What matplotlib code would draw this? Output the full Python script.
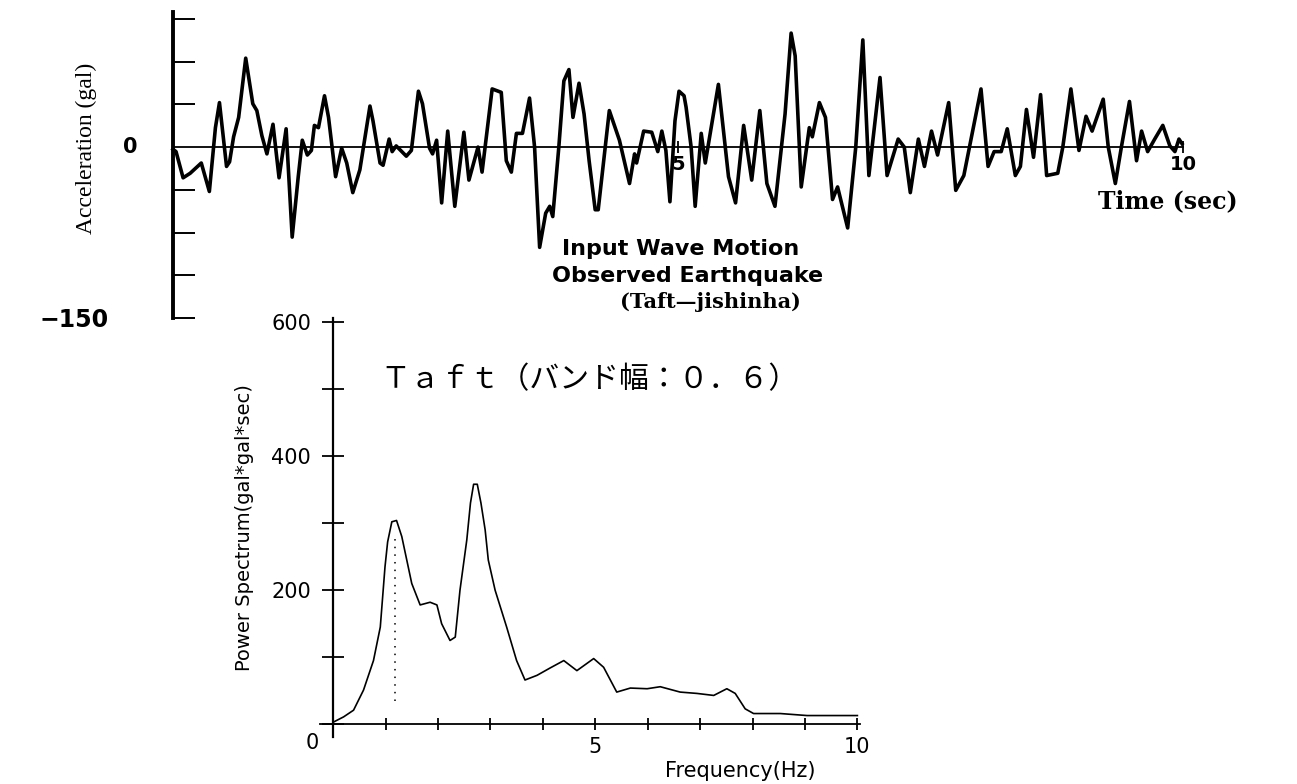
#!/usr/bin/python3

import matplotlib
matplotlib.use('Agg')
from matplotlib import pyplot as plt

WIDTH, HEIGHT, DPI = 1297, 784, 100

# Input wave motion (Taft record).
TIME = [
    0.00, 0.03, 0.10, 0.17, 0.28, 0.36, 0.42, 0.46, 0.53, 0.56,
    0.60, 0.65, 0.72, 0.79, 0.83, 0.88, 0.93, 0.99, 1.05, 1.12,
    1.18, 1.24, 1.28, 1.33, 1.37, 1.40, 1.44, 1.50, 1.54, 1.61,
    1.67, 1.72, 1.78, 1.85, 1.95, 1.98, 2.05, 2.08, 2.14, 2.17,
    2.21, 2.31, 2.36, 2.43, 2.47, 2.54, 2.57, 2.61, 2.66, 2.72,
    2.79, 2.88, 2.93, 3.02, 3.06, 3.16, 3.25, 3.30, 3.35, 3.40,
    3.46, 3.53, 3.58, 3.63, 3.69, 3.73, 3.76, 3.82, 3.87, 3.92,
    3.96, 4.02, 4.07, 4.12, 4.18, 4.21, 4.32, 4.42, 4.52, 4.57,
    4.59, 4.66, 4.74, 4.80, 4.84, 4.88, 4.92, 4.97, 5.01, 5.06,
    5.08, 5.13, 5.17, 5.23, 5.27, 5.40, 5.50, 5.57, 5.65, 5.73,
    5.81, 5.88, 5.96, 6.06, 6.12, 6.16, 6.22, 6.30, 6.33, 6.40,
    6.46, 6.53, 6.58, 6.68, 6.76, 6.83, 6.89, 7.00, 7.07, 7.18,
    7.24, 7.30, 7.38, 7.44, 7.51, 7.57, 7.68, 7.75, 7.83, 8.00,
    8.07, 8.13, 8.20, 8.26, 8.34, 8.39, 8.45, 8.52, 8.59, 8.65,
    8.76, 8.81, 8.89, 8.97, 9.04, 9.10, 9.21, 9.26, 9.33, 9.39,
    9.47, 9.54, 9.59, 9.65, 9.72, 9.80, 9.87, 9.92, 9.96, 9.99,
]
ACCEL = [
    -2, -4, -27, -23, -14, -39, 17, 39, -17, -13,
    9, 26, 78, 38, 32, 10, -6, 20, -27, 16,
    -79, -26, 6, -7, -3, 19, 17, 45, 26, -26,
    -1, -14, -40, -20, 36, 23, -14, -16, 7, -4,
    1, -8, -3, 49, 38, -1, -6, 6, -49, 14,
    -52, 13, -29, 0, -22, 51, 48, -12, -22, 12,
    12, 43, 0, -88, -58, -52, -61, 0, 58, 68,
    26, 56, 29, -12, -55, -55, 32, 6, -32, -6,
    -14, 14, 13, -4, 14, -3, -48, 23, 49, 45,
    35, 0, -52, 12, -14, 55, -26, -49, 19, -29,
    32, -32, -52, 29, 100, 80, -35, 17, 9, 39,
    26, -46, -35, -71, 0, 94, -25, 61, -25, 7,
    0, -40, 7, -17, 14, -7, 39, -38, -25, 51,
    -17, -4, -4, 16, -25, -17, 33, -9, 46, -25,
    -23, 0, 51, -3, 27, 14, 42, 0, -32, 0,
    40, -12, 14, -4, 7, 19, 1, -4, 7, 3,
]
ACCEL_TICKS = [-150, -112.5, -75, -37.5, 37.5, 75, 112.5]
TIME_TICKS = [5, 10]

# Power spectrum, band width 0.6.
FREQ = [
    0.0, 0.2, 0.39, 0.58, 0.77, 0.9, 0.99, 1.04, 1.12, 1.21,
    1.31, 1.5, 1.66, 1.85, 1.98, 2.07, 2.23, 2.33, 2.42, 2.55,
    2.62, 2.68, 2.75, 2.82, 2.9, 2.96, 3.09, 3.31, 3.5, 3.66,
    3.89, 4.14, 4.4, 4.65, 4.97, 5.16, 5.41, 5.67, 5.99, 6.24,
    6.62, 6.94, 7.26, 7.51, 7.67, 7.86, 8.02, 8.53, 9.04, 10.0,
]
POWER = [
    3, 11, 21, 51, 95, 145, 235, 272, 302, 304,
    280, 210, 178, 182, 178, 150, 125, 130, 200, 275,
    330, 358, 358, 330, 290, 245, 200, 145, 95, 66,
    73, 84, 95, 80, 98, 85, 48, 54, 53, 56,
    48, 46, 43, 53, 46, 23, 16, 16, 13, 13,
]
FREQ_TICKS = list(range(11))
FREQ_LABELS = ['', '', '', '', '', '5', '', '', '', '', '10']
POWER_TICKS = [0, 100, 200, 300, 400, 500, 600]
POWER_LABELS = ['', '', '200', '', '400', '', '600']

# Dotted marker under the first peak.
MARK_FREQ = 1.19
MARK_POWER = (35, 285)

NOTE = 'Ｔａｆｔ（バンド幅：０．６）'


def px_rect(left, top, right, bottom):
    return [left / WIDTH, 1 - bottom / HEIGHT,
            (right - left) / WIDTH, (bottom - top) / HEIGHT]


def label(fig, x, y, text, **kw):
    kw.setdefault('ha', 'center')
    kw.setdefault('va', 'center')
    fig.text(x / WIDTH, 1 - y / HEIGHT, text, **kw)


def plot_wave(fig):
    ax = fig.add_axes(px_rect(173, 12, 1183, 318))
    ax.plot(TIME, ACCEL, color='black', lw=2.6, clip_on=False)
    ax.set_xlim(0, 10)
    ax.set_ylim(-150, 118.5)
    for side in ('top', 'right'):
        ax.spines[side].set_visible(False)
    ax.spines['left'].set_linewidth(2.8)
    ax.spines['bottom'].set_position(('data', 0))
    ax.spines['bottom'].set_linewidth(1.3)
    ax.set_yticks(ACCEL_TICKS)
    ax.tick_params(axis='y', direction='in', length=16, width=1.4,
                   labelleft=False)
    ax.set_xticks(TIME_TICKS, [str(t) for t in TIME_TICKS],
                  family='DejaVu Sans', weight='bold', size=14)
    ax.tick_params(axis='x', direction='inout', length=8, width=1.3, pad=2)
    ax.patch.set_visible(False)

    label(fig, 86, 148, 'Acceleration (gal)', rotation=90,
          family='Liberation Serif', size=17)
    label(fig, 130, 147, '0', family='DejaVu Sans', weight='bold', size=15)
    label(fig, 74, 320, '−150', family='DejaVu Sans', weight='bold',
          size=17)
    label(fig, 1168, 201, 'Time (sec)', family='DejaVu Serif',
          weight='bold', size=17)
    label(fig, 681, 249, 'Input Wave Motion', family='DejaVu Sans',
          weight='bold', size=16)
    label(fig, 688, 276, 'Observed Earthquake', family='DejaVu Sans',
          weight='bold', size=16)
    label(fig, 710, 302, '(Taft—jishinha)', family='DejaVu Serif',
          weight='bold', size=15)


def plot_spectrum(fig):
    ax = fig.add_axes(px_rect(320, 318, 860, 737))
    ax.plot(FREQ, POWER, color='black', lw=1.2)
    ax.vlines(MARK_FREQ, *MARK_POWER, colors='black', lw=1.1,
              linestyles=(0, (1, 4)))
    ax.set_xlim(-0.25, 10.05)
    ax.set_ylim(-19, 606)
    for side in ('top', 'right'):
        ax.spines[side].set_visible(False)
    ax.spines['left'].set_position(('data', 0))
    ax.spines['left'].set_linewidth(1.6)
    ax.spines['bottom'].set_position(('data', 0))
    ax.spines['bottom'].set_linewidth(1.3)
    ax.set_xticks(FREQ_TICKS, FREQ_LABELS, family='DejaVu Sans', size=15)
    ax.set_yticks(POWER_TICKS, POWER_LABELS, family='DejaVu Sans', size=15)
    ax.tick_params(axis='x', direction='inout', length=9, width=1.3, pad=5)
    ax.tick_params(axis='y', direction='inout', length=16, width=1.3, pad=8)
    ax.patch.set_visible(False)

    label(fig, 312, 743, '0', family='DejaVu Sans', size=15)
    label(fig, 244, 528, 'Power Spectrum(gal*gal*sec)', rotation=90,
          family='DejaVu Sans', size=14)
    label(fig, 740, 771, 'Frequency(Hz)', family='DejaVu Sans', size=15)
    label(fig, 380, 380, NOTE, ha='left',
          family=['Noto Sans CJK JP', 'DejaVu Sans'], size=21.5)


def main():
    fig = plt.figure(figsize=(WIDTH / DPI, HEIGHT / DPI), dpi=DPI)
    plot_wave(fig)
    plot_spectrum(fig)
    fig.savefig('out.png', dpi=DPI)


if __name__ == '__main__':
    main()
